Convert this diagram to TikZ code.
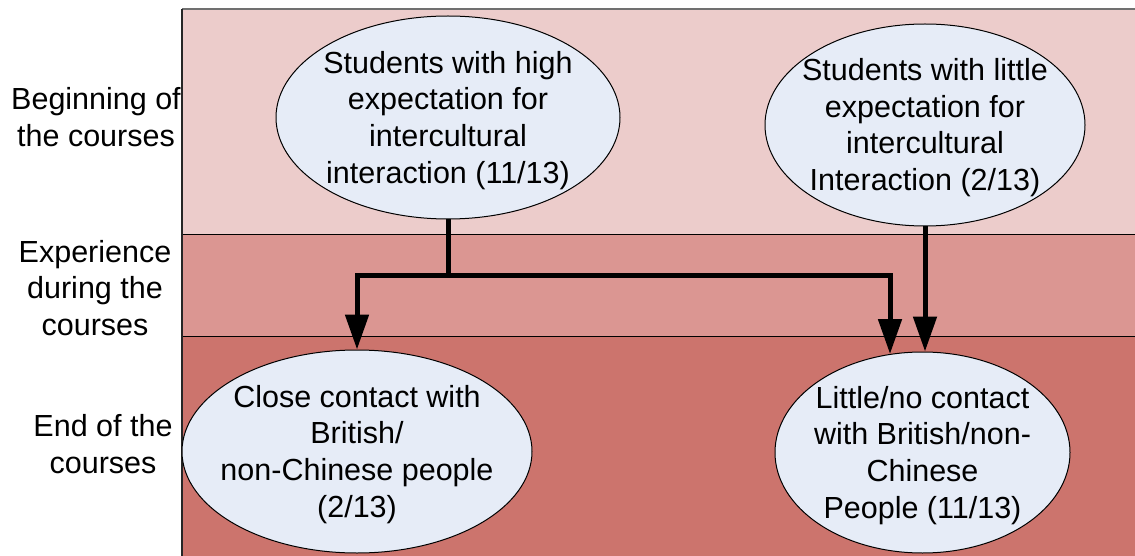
\documentclass[tikz,border=0pt]{standalone}
\usepackage{fontspec}
\setmainfont{Liberation Sans}
\usetikzlibrary{arrows.meta,shapes.geometric}
\definecolor{bandA}{HTML}{ECCCCB}
\definecolor{bandB}{HTML}{DB9692}
\definecolor{bandC}{HTML}{CC746D}
\definecolor{bubblefill}{HTML}{E6ECF7}
\definecolor{rimgray}{HTML}{707070}
% centred multi-line text that does not enlarge the ellipse around it
\newcommand{\bubbletext}[1]{\makebox[0pt][c]{\raisebox{-9.5pt}[0pt][0pt]{\begin{tabular}[c]{@{}c@{}}#1\end{tabular}}}}

\begin{document}
\begin{tikzpicture}[x=1pt,y=-1pt,
  every node/.style={font=\fontsize{30.5}{36.7}\selectfont},
  bubble/.style={ellipse, draw=black, line width=1pt, fill=bubblefill, inner sep=0pt},
  stage/.style={align=center, inner sep=0pt},
  flowarrow/.style={line width=5pt, -{Triangle[width=23pt,length=35pt]}}]
\useasboundingbox (0,0) rectangle (1135,556);

% stage labels on the left
\node[stage] (lbegin) at (96,117) {Beginning of\\the courses};
\node[stage] (lexp) at (95,288) {Experience\\during the\\courses};
\node[stage] (lend) at (103,444) {End of the\\courses};

% the three horizontal bands
\fill[bandA] (182,9) rectangle (1135,235);
\fill[bandB] (182,235) rectangle (1135,336);
\fill[bandC] (182,336) rectangle (1135,556);
\draw[line width=1pt] (182,235) -- (1135,235);
\draw[line width=1pt] (182,336) -- (1135,336);
\draw[rimgray, line width=2pt] (182,9) -- (1135,9);
\draw[black!85, line width=1.5pt] (182,9) -- (182,556);

% outcome ellipses
\node[bubble, minimum width=344pt, minimum height=203pt] (e1) at (448,117.5)
  {\bubbletext{Students with high\\expectation for\\intercultural\\interaction (11/13)}};
\node[bubble, minimum width=320pt, minimum height=202pt] (e2) at (925,125)
  {\bubbletext{Students with little\\expectation for\\intercultural\\Interaction (2/13)}};
\node[bubble, minimum width=350pt, minimum height=203pt] (e3) at (357,451.5)
  {\bubbletext{Close contact with\\British/\\non-Chinese people\\(2/13)}};
\node[bubble, minimum width=295pt, minimum height=201pt] (e4) at (922.5,452.5)
  {\bubbletext{Little/no contact\\with British/non-\\Chinese\\People (11/13)}};

% connectors
\coordinate (split) at (448,275);
\coordinate (t4) at (890,354);
\draw[flowarrow] (e1.south) -- (split) -| (e3.north);
\draw[flowarrow] (split) -| (t4);
\draw[flowarrow] (e2.south) -- (e2.south |- e4.north);
\end{tikzpicture}
\end{document}
